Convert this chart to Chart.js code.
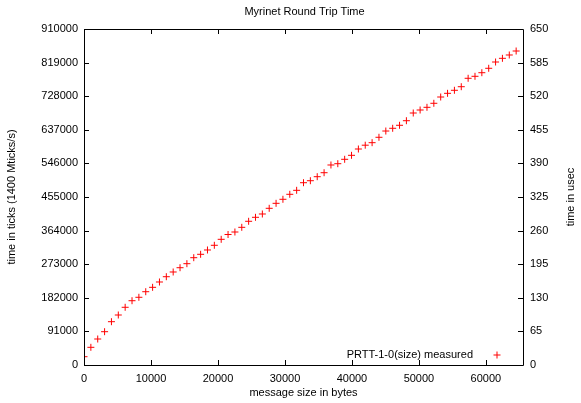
<!DOCTYPE html>
<html>
<head>
<meta charset="utf-8">
<script src="https://cdn.jsdelivr.net/npm/chart.js"></script>
<style>
  body { margin: 0; background: #fff; }
  canvas { display: block; }
</style>
</head>
<body>
<canvas id="chart" width="581" height="403"></canvas>
<script>
// message sizes (bytes)
const sizes = [0, 1024, 2048, 3072, 4096, 5120, 6144, 7168, 8192, 9216,
    10240, 11264, 12288, 13312, 14336, 15360, 16384, 17408, 18432, 19456,
    20480, 21504, 22528, 23552, 24576, 25600, 26624, 27648, 28672, 29696,
    30720, 31744, 32768, 33792, 34816, 35840, 36864, 37888, 38912, 39936,
    40960, 41984, 43008, 44032, 45056, 46080, 47104, 48128, 49152, 50176,
    51200, 52224, 53248, 54272, 55296, 56320, 57344, 58368, 59392, 60416,
    61440, 62464, 63488, 64512];

// measured round trip time in ticks
const rttTicks = [22500, 47900, 70400, 90200, 117300, 135400, 156300, 174100, 183400, 198500,
    210400, 224800, 239100, 251900, 263500, 274400, 290600, 299800, 311500, 324200,
    340400, 353400, 360200, 372900, 389200, 400000, 409000, 424400, 437900, 448800,
    462300, 473100, 493700, 499100, 510000, 520800, 541700, 545200, 557100, 567900,
    585000, 595300, 602100, 616700, 633700, 641100, 649200, 661600, 682500, 690600,
    697900, 708800, 725800, 735800, 744000, 753700, 776500, 781900, 791600, 803600,
    820600, 830600, 839600, 850400];

const xTicks = [0, 10000, 20000, 30000, 40000, 50000, 60000];
const yTicks = [0, 91000, 182000, 273000, 364000, 455000, 546000, 637000, 728000, 819000, 910000];
const y2Ticks = [0, 65, 130, 195, 260, 325, 390, 455, 520, 585, 650];

const FONT = 'Liberation Sans, Arial, sans-serif';
const RED = 'rgb(255, 0, 0)';

// gnuplot style frame: border, inward ticks, titles, key
const framePlugin = {
    id: 'frame',
    afterDraw(chart) {
        const ctx = chart.ctx;
        const a = chart.chartArea;
        const sx = chart.scales.x, sy = chart.scales.y, sy2 = chart.scales.y2;
        const tl = 5;
        ctx.save();
        ctx.strokeStyle = '#000';
        ctx.lineWidth = 1;
        ctx.beginPath();
        ctx.rect(Math.round(a.left) + 0.5, Math.round(a.top) + 0.5,
            Math.round(a.right - a.left), Math.round(a.bottom - a.top));
        xTicks.forEach(v => {
            const px = Math.round(sx.getPixelForValue(v)) + 0.5;
            ctx.moveTo(px, a.bottom); ctx.lineTo(px, a.bottom - tl);
            ctx.moveTo(px, a.top); ctx.lineTo(px, a.top + tl);
        });
        yTicks.forEach(v => {
            const py = Math.round(sy.getPixelForValue(v)) + 0.5;
            ctx.moveTo(a.left, py); ctx.lineTo(a.left + tl, py);
        });
        y2Ticks.forEach(v => {
            const py = Math.round(sy2.getPixelForValue(v)) + 0.5;
            ctx.moveTo(a.right, py); ctx.lineTo(a.right - tl, py);
        });
        ctx.stroke();

        ctx.fillStyle = '#000';
        ctx.font = '11px ' + FONT;
        ctx.textAlign = 'center';
        ctx.textBaseline = 'middle';
        ctx.fillText('Myrinet Round Trip Time', (a.left + a.right) / 2 + 1, 12);
        ctx.fillText('message size in bytes', (a.left + a.right) / 2, 393);

        const midY = (a.top + a.bottom) / 2;
        ctx.save();
        ctx.translate(12, midY);
        ctx.rotate(-Math.PI / 2);
        ctx.fillText('time in ticks (1400 Mticks/s)', 0, 0);
        ctx.restore();
        ctx.save();
        ctx.translate(571, midY);
        ctx.rotate(-Math.PI / 2);
        ctx.fillText('time in usec', 0, 0);
        ctx.restore();

        // key
        ctx.textAlign = 'right';
        ctx.fillText('PRTT-1-0(size) measured', 473, 355);
        ctx.strokeStyle = RED;
        ctx.fillStyle = RED;
        Chart.helpers.drawPoint(ctx, { pointStyle: 'cross', radius: 3.5, borderWidth: 1, rotation: 0 }, 497, 355);
        ctx.restore();
    }
};

const tickFont = { family: FONT, size: 11 };

new Chart(document.getElementById('chart'), {
    type: 'scatter',
    data: {
        datasets: [{
            label: 'PRTT-1-0(size) measured',
            data: sizes.map((s, i) => ({ x: s, y: rttTicks[i] })),
            pointStyle: 'cross',
            pointRadius: 3.5,
            pointBorderColor: RED,
            pointBorderWidth: 1,
            pointBackgroundColor: RED,
            yAxisID: 'y'
        }]
    },
    options: {
        responsive: false,
        animation: false,
        devicePixelRatio: 1,
        layout: { padding: { top: 29, left: 0, right: 0, bottom: 0 } },
        plugins: {
            legend: { display: false },
            tooltip: { enabled: false }
        },
        scales: {
            x: {
                type: 'linear',
                position: 'bottom',
                min: 0,
                max: 65536,
                afterBuildTicks: s => { s.ticks = xTicks.map(v => ({ value: v })); },
                afterFit: s => { s.height = 38; },
                grid: { display: false, drawTicks: false },
                border: { display: false },
                ticks: { color: '#000', font: tickFont, padding: 7, maxRotation: 0,
                    callback: v => String(v) }
            },
            y: {
                type: 'linear',
                position: 'left',
                min: 0,
                max: 910000,
                afterBuildTicks: s => { s.ticks = yTicks.map(v => ({ value: v })); },
                afterFit: s => { s.width = 84; },
                grid: { display: false, drawTicks: false },
                border: { display: false },
                ticks: { color: '#000', font: tickFont, padding: 6,
                    callback: v => String(v) }
            },
            y2: {
                type: 'linear',
                position: 'right',
                min: 0,
                max: 650,
                display: true,
                afterBuildTicks: s => { s.ticks = y2Ticks.map(v => ({ value: v })); },
                afterFit: s => { s.width = 58; },
                grid: { display: false, drawTicks: false },
                border: { display: false },
                ticks: { color: '#000', font: tickFont, padding: 7,
                    callback: v => String(v) }
            }
        }
    },
    plugins: [framePlugin]
});
</script>
</body>
</html>
